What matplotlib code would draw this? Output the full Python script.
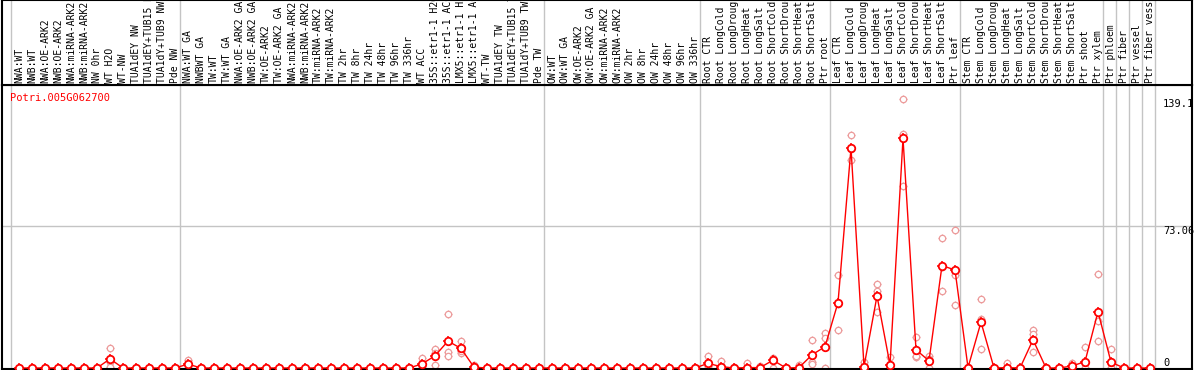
import matplotlib
matplotlib.use("Agg")
import matplotlib.pyplot as plt
import matplotlib.transforms as mtransforms
import numpy as np

# ---------------- data ----------------
labels = [
    # NW group
    "NWA:WT", "NWB:WT", "NWA:OE-ARK2", "NWB:OE-ARK2", "NWA:miRNA-ARK2", "NWB:miRNA-ARK2",
    "NW 0hr", "WT H2O", "WT-NW", "TUA1dEY NW", "TUA1dEY+TUB15 NW", "TUA1dY+TUB9 NW", "Pde NW",
    # GA / TW group
    "NWA:WT GA", "NWBWT GA", "TW:WT", "TW:WT GA", "NWA:OE-ARK2 GA", "NWB:OE-ARK2 GA",
    "TW:OE-ARK2", "TW:OE-ARK2 GA", "NWA:miRNA-ARK2", "NWB:miRNA-ARK2", "TW:miRNA-ARK2",
    "TW:miRNA-ARK2", "TW 2hr", "TW 8hr", "TW 24hr", "TW 48hr", "TW 96hr", "TW 336hr",
    "WT ACC", "35S::etr1-1 H2O", "35S::etr1-1 ACC", "LMX5::etr1-1 H2O", "LMX5::etr1-1 ACC",
    "WT-TW", "TUA1dEY TW", "TUA1dEY+TUB15 TW", "TUA1dY+TUB9 TW", "Pde TW",
    # OW group
    "OW:WT", "OW:WT GA", "OW:OE-ARK2", "OW:OE-ARK2 GA", "OW:miRNA-ARK2", "OW:miRNA-ARK2",
    "OW 2hr", "OW 8hr", "OW 24hr", "OW 48hr", "OW 96hr", "OW 336hr",
    # Root
    "Root CTR", "Root LongCold", "Root LongDrought", "Root LongHeat", "Root LongSalt",
    "Root ShortCold", "Root ShortDrought", "Root ShortHeat", "Root ShortSalt", "Ptr root",
    # Leaf
    "Leaf CTR", "Leaf LongCold", "Leaf LongDrought", "Leaf LongHeat", "Leaf LongSalt",
    "Leaf ShortCold", "Leaf ShortDrought", "Leaf ShortHeat", "Leaf ShortSalt", "Ptr leaf",
    # Stem
    "Stem CTR", "Stem LongCold", "Stem LongDrought", "Stem LongHeat", "Stem LongSalt",
    "Stem ShortCold", "Stem ShortDrought", "Stem ShortHeat", "Stem ShortSalt", "Ptr shoot",
    "Ptr xylem",
    # singles
    "Ptr phloem", "Ptr fiber", "Ptr vessel", "Ptr fiber vessel",
]

group_sizes = [13, 28, 12, 10, 10, 11, 1, 1, 1, 1]

mean_values = [
    0, 0, 0, 0, 0, 0, 0, 4.7, 0, 0,
    0, 0, 0, 2.0, 0, 0, 0, 0, 0, 0,
    0, 0, 0, 0, 0, 0, 0, 0, 0, 0,
    0, 2.1, 6.3, 13.9, 10.1, 0.4, 0, 0, 0, 0,
    0, 0, 0, 0, 0, 0, 0, 0, 0, 0,
    0, 0, 0, 2.4, 0.7, 0, 0.2, 0.2, 4.0, 0,
    0.2, 6.8, 11.0, 33.8, 113.6, 0.7, 37.2, 1.6, 118.5, 9.4,
    3.7, 52.9, 50.6, 0.2, 23.7, 0, 0.2, 0, 14.6, 0,
    0, 1.0, 3.3, 29.1, 3.0, 0, 0, 0,
]

rep1 = [
    0, 0, 0, 0, 0, 0, 0, 10.4, 0, 0,
    0, 0, 0, 4.2, 0, 0, 0, 0, 0, 0,
    0, 0, 0, 0, 0, 0, 0, 0, 0, 0,
    0, 5.2, 9.8, 27.7, 13.9, 1.6, 0, 0, 0, 0,
    0, 0, 0, 0, 0, 0, 0, 0, 0, 0,
    0, 0, 0, 6.3, 3.7, 0.7, 2.8, 1.0, 5.4, 0,
    1.6, 14.4, 18.1, 48.2, 120.4, 3.3, 43.2, 5.9, 139.1, 16.0,
    6.4, 67.3, 71.0, 0.7, 35.5, 0, 2.4, 0, 19.8, 0,
    0, 2.4, 11.0, 48.5, 9.7, 0, 0, 0,
]

rep2 = [
    0, 0, 0, 0, 0, 0, 0, 3.0, 0, 0,
    0, 0, 0, 1.8, 0, 0, 0, 0, 0, 0,
    0, 0, 0, 0, 0, 0, 0, 0, 0, 0,
    0, 1.1, 7.7, 8.4, 7.7, 0, 0, 0, 0, 0,
    0, 0, 0, 0, 0, 0, 0, 0, 0, 0,
    0, 0, 0, 1.0, 0, 0, 0, 0, 4.0, 0,
    0, 3.3, 15.5, 32.9, 107.4, 0, 28.9, 0, 120.7, 5.9,
    4.7, 51.9, 48.0, 0, 25.4, 0, 0, 0, 17.6, 0,
    0, 0.6, 0, 24.2, 0, 0, 0, 0,
]

rep3 = [
    0, 0, 0, 0, 0, 0, 0, 0.7, 0, 0,
    0, 0, 0, 0, 0, 0, 0, 0, 0, 0,
    0, 0, 0, 0, 0, 0, 0, 0, 0, 0,
    0, 0, 1.4, 6.3, 8.7, 0, 0, 0, 0, 0,
    0, 0, 0, 0, 0, 0, 0, 0, 0, 0,
    0, 0, 0, 0, 0, 0, 0, 0, 0, 0,
    0, 1.9, 0, 19.7, 113.0, 0, 39.5, 0, 93.8, 6.3,
    0, 39.5, 32.4, 0, 9.7, 0, 0, 0, 8.5, 0,
    0, 0, 0, 14.1, 0, 0, 0, 0,
]

y_marks = [0, 73.06, 139.1]
y_mark_labels = ["0", "73.06", "139.1"]
y_top = 146.12
gene_name = "Potri.005G062700"

# ---------------- styling ----------------
RED = "#ff0000"
PALE = "#ec9a9a"
GRID = "#c4c4c4"
MONO = "DejaVu Sans Mono"

x = np.arange(len(labels))

fig = plt.figure(figsize=(11.94, 3.70), dpi=100)
ax = fig.add_axes([2 / 1194, 1 / 370, 1190 / 1194, 284 / 370])
hx = fig.add_axes([2 / 1194, 285 / 370, 1190 / 1194, 85 / 370], sharex=ax)

ax.set_xlim(-1.308, 90.23)
ax.set_ylim(-0.52, y_top)
hx.set_ylim(0, 1)

for a in (ax, hx):
    a.set_xticks([])
    a.set_yticks([])
    for s in a.spines.values():
        s.set_color("black")
        s.set_linewidth(1.5)

# group separators
bounds = np.concatenate([[0], np.cumsum(group_sizes)]) - 0.62
for b in bounds:
    ax.axvline(b, color=GRID, lw=1, zorder=0)
    hx.axvline(b, color=GRID, lw=1, zorder=0)

# mid horizontal grid
ax.axhline(y_marks[1], color=GRID, lw=1, zorder=0)

# replicates
for rep in (rep1, rep2, rep3):
    ax.plot(x, rep, ls="none", marker="+", ms=6.0, mew=0.9, color=PALE, zorder=1)
    ax.plot(x, rep, ls="none", marker="o", ms=4.6, mfc="white", mec=PALE, mew=0.9, zorder=2)

# mean line
ax.plot(x, mean_values, color=RED, lw=1.0, zorder=3)
ax.plot(x, mean_values, ls="none", marker="+", ms=7.4, mew=1.1, color=RED, zorder=4)
ax.plot(x, mean_values, ls="none", marker="o", ms=5.4, mfc="white", mec=RED, mew=1.3, zorder=5)

# value labels on right
tr = mtransforms.blended_transform_factory(ax.transAxes, ax.transData)
for v, t in zip(y_marks, y_mark_labels):
    va = "bottom" if v == 0 else "top"
    ax.text(0.9756, v, t, transform=tr, ha="left", va=va, fontsize=7.5,
            family=MONO, color="black", zorder=6)

# gene name
ax.text(0.0067, 0.955, gene_name, transform=ax.transAxes, ha="left", va="center",
        fontsize=7.5, family=MONO, color=RED)

# header labels (clipped at the top edge of the header band, as in the reference)
htr = mtransforms.blended_transform_factory(hx.transData, hx.transAxes)
for xi, lab in zip(x, labels):
    hx.text(xi, 0.025, lab, transform=htr, rotation=90, ha="center", va="bottom",
            fontsize=7, family=MONO, color="black", clip_on=True)

fig.savefig("out.png", dpi=100)
